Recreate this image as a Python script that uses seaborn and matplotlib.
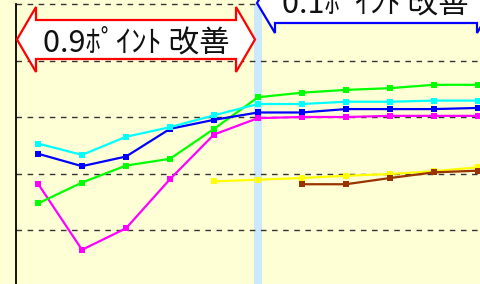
import numpy as np
import pandas as pd
import matplotlib
matplotlib.use("Agg")
import matplotlib.pyplot as plt
from matplotlib.patches import Polygon
import seaborn as sns

# -------------------------
# === Data ================
# -------------------------
periods = list(range(11))

cyan_vals = [2.53, 2.33, 2.65, 2.82, 3.03, 3.23, 3.23, 3.27, 3.27, 3.29, 3.29]
blue_vals = [2.35, 2.13, 2.30, 2.79, 2.95, 3.08, 3.08, 3.14, 3.14, 3.14, 3.16]
green_vals = [1.47, 1.84, 2.14, 2.26, 2.79, 3.35, 3.43, 3.48, 3.51, 3.57, 3.57]
magenta_vals = [1.82, 0.65, 1.03, 1.90, 2.69, 2.98, 3.00, 3.00, 3.02, 3.02, 3.02]
yellow_vals = [None, None, None, None, 1.86, 1.89, 1.92, 1.96, 1.99, 2.04, 2.11]
brown_vals = [None, None, None, None, None, None, 1.81, 1.81, 1.92, 2.02, 2.05]

series_names = ["yellow", "brown", "magenta", "green", "blue", "cyan"]
series_vals = [yellow_vals, brown_vals, magenta_vals, green_vals, blue_vals, cyan_vals]
series_colors = ["#FFFF00", "#993300", "#FF00FF", "#00FF00", "#0000FF", "#00FFFF"]

left_label = "0.9ﾎﾟｲﾝﾄ 改善"
right_label = "0.1ﾎﾟｲﾝﾄ 改善"
highlight_period = 5

BG = "#FFFFD5"
W, H = 481, 284

# long format for seaborn
rows = []
for name, vals in zip(series_names, series_vals):
    for p, v in zip(periods, vals):
        if v is not None:
            rows.append({"period": p, "value": v, "series": name})
df = pd.DataFrame(rows)

# -------------------------
# === Plot ================
# -------------------------
sns.set_style("white")
plt.rcParams["font.family"] = ["Noto Sans CJK JP", "DejaVu Sans"]

fig = plt.figure(figsize=(W / 100, H / 100), dpi=100, facecolor=BG)
ax = fig.add_axes([16 / W, -2.5 / H, 484 / W, 282.5 / H])
ax.set_facecolor(BG)

ax.axvspan(highlight_period - 0.09, highlight_period + 0.09, color="#CCE8FF", zorder=0, lw=0)

for gy in [1, 2, 3, 4, 5]:
    ax.axhline(gy, color="#333333", lw=1.0, ls=(0, (4, 4)), zorder=1, clip_on=False)

sns.lineplot(data=df, x="period", y="value", hue="series", hue_order=series_names,
             palette=dict(zip(series_names, series_colors)), marker="s",
             markersize=4, markeredgewidth=0, linewidth=1.6, estimator=None,
             sort=False, legend=False, ax=ax, zorder=3)

ax.set_xlim(-0.5, 10.5)
ax.set_ylim(0, 5)
ax.set_xticks(np.arange(-0.5, 11, 1))
ax.set_xticklabels([])
ax.set_yticks([])
ax.tick_params(axis="x", direction="in", length=3, color="#777777", width=1)
ax.set_xlabel("")
ax.set_ylabel("")
for s in ["top", "right", "bottom"]:
    ax.spines[s].set_visible(False)
ax.spines["left"].set_color("black")
ax.spines["left"].set_linewidth(1.3)


def px(x, y):
    return (x / W, 1 - y / H)


def double_arrow(x0, x1, cy, head_len, head_half, shaft_half, edge):
    pts = [
        (x0, cy), (x0 + head_len, cy - head_half), (x0 + head_len, cy - shaft_half),
        (x1 - head_len, cy - shaft_half), (x1 - head_len, cy - head_half), (x1, cy),
        (x1 - head_len, cy + head_half), (x1 - head_len, cy + shaft_half),
        (x0 + head_len, cy + shaft_half), (x0 + head_len, cy + head_half),
    ]
    poly = Polygon([px(*p) for p in pts], closed=True, transform=fig.transFigure,
                   facecolor="white", edgecolor=edge, lw=1.6, zorder=10, clip_on=False)
    fig.patches.append(poly)


double_arrow(17, 255, 39.5, 19, 32.5, 19.5, "#FF0000")
double_arrow(257, 495, 3, 18, 30, 20, "#0000FF")

fig.text(*px(136, 43), left_label, ha="center", va="center", fontsize=22, color="#111111", zorder=11)
fig.text(*px(375, 4), right_label, ha="center", va="center", fontsize=22, color="#111111", zorder=11)

fig.savefig("out.png", dpi=100, facecolor=BG)
